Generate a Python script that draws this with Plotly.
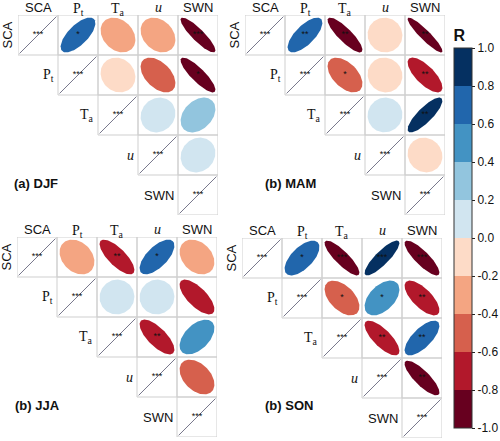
import numpy as np
import plotly.graph_objects as go

# ---------------- data ----------------
variables = ["SCA", "P<sub>t</sub>", "T<sub>a</sub>", "<i>u</i>", "SWN"]
var_fonts = ["Liberation Sans", "Liberation Serif", "Liberation Serif", "Liberation Serif", "Liberation Sans"]
# upper-triangle pairs order: (0,1),(0,2),(0,3),(0,4),(1,2),(1,3),(1,4),(2,3),(2,4),(3,4)
seasons = ["(a) DJF", "(b) MAM", "(b) JJA", "(b) SON"]
r_djf = [0.68, -0.27, -0.27, -0.88, -0.12, -0.47, -0.85, 0.10, 0.34, 0.12]
r_mam = [0.70, -0.85, -0.03, -0.92, -0.50, -0.05, -0.72, 0.03, 0.82, -0.08]
r_jja = [-0.28, -0.75, 0.65, -0.30, 0.02, 0.02, -0.70, -0.72, 0.50, -0.42]
r_son = [0.62, -0.85, 0.85, -0.84, -0.50, 0.48, -0.70, -0.75, 0.70, -0.82]
sig_djf = ["*", "", "", "***", "", "", "*", "", "", ""]
sig_mam = ["**", "**", "", "**", "*", "", "**", "", "**", ""]
sig_jja = ["", "**", "*", "", "", "", "", "**", "", ""]
sig_son = ["*", "***", "***", "***", "*", "*", "**", "**", "**", "**"]
diag_sig = "***"
r_all = [r_djf, r_mam, r_jja, r_son]
sig_all = [sig_djf, sig_mam, sig_jja, sig_son]

bin_edges = [-1.0, -0.8, -0.6, -0.4, -0.2, 0.0, 0.2, 0.4, 0.6, 0.8, 1.0]
bin_colors = ["#67001f", "#b2182b", "#d6604d", "#f4a582", "#fddbc7",
              "#d1e5f0", "#92c5de", "#4393c3", "#2166ac", "#053061"]
tick_vals = [-1.0, -0.8, -0.6, -0.4, -0.2, 0.0, 0.2, 0.4, 0.6, 0.8, 1.0]

# ---------------- layout geometry (pixels) ----------------
W, H = 500, 441
panels_px = [(18, 15), (245, 15), (17, 237), (242, 238)]  # left, top
panel_size = 200
title_px = [(12, 183), (263, 183), (13, 405), (263, 405)]

def color_for(v):
    for k in range(10):
        if v <= bin_edges[k + 1] or k == 9:
            return bin_colors[k]

pairs = [(i, j) for i in range(5) for j in range(i + 1, 5)]
n = 5
s = 0.435
t = np.linspace(0, 2 * np.pi, 120)

fig = go.Figure()
annotations = []

for p in range(4):
    xa = "x" if p == 0 else f"x{p+1}"
    ya = "y" if p == 0 else f"y{p+1}"
    # cell borders
    bx, by = [], []
    for i in range(n):
        for j in range(i, n):
            x0, x1 = j + 1 - 0.5, j + 1 + 0.5
            y0, y1 = i + 1 - 0.5, i + 1 + 0.5
            bx += [x0, x1, x1, x0, x0, None]
            by += [y0, y0, y1, y1, y0, None]
    fig.add_trace(go.Scatter(x=bx, y=by, mode="lines", line=dict(color="#cfcfcf", width=1),
                             xaxis=xa, yaxis=ya, showlegend=False, hoverinfo="skip"))
    # diagonal lines
    dx, dy = [], []
    for i in range(n):
        c = i + 1
        dx += [c - 0.46, c + 0.46, None]
        dy += [c + 0.46, c - 0.46, None]
    fig.add_trace(go.Scatter(x=dx, y=dy, mode="lines", line=dict(color="#55556e", width=0.8),
                             xaxis=xa, yaxis=ya, showlegend=False, hoverinfo="skip"))
    # ellipses
    for k, (i, j) in enumerate(pairs):
        r = r_all[p][k]
        d = np.arccos(np.clip(r, -1, 1))
        cx, cy = j + 1, i + 1
        ex = cx + s * np.cos(t + d / 2)
        ey = cy - s * np.cos(t - d / 2)
        fig.add_trace(go.Scatter(x=ex, y=ey, mode="lines", fill="toself",
                                 fillcolor=color_for(r), line=dict(width=0, color=color_for(r)),
                                 xaxis=xa, yaxis=ya, showlegend=False, hoverinfo="skip"))
    # significance stars (only non-empty)
    sx, sy, st = [], [], []
    for k, (i, j) in enumerate(pairs):
        if sig_all[p][k]:
            sx.append(j + 1); sy.append(i + 1); st.append(sig_all[p][k])
    for i in range(n):
        sx.append(i + 1); sy.append(i + 1); st.append(diag_sig)
    fig.add_trace(go.Scatter(x=sx, y=sy, mode="text", text=st,
                             textfont=dict(size=9, color="#111111", family="Liberation Sans"),
                             textposition="middle center",
                             xaxis=xa, yaxis=ya, showlegend=False, hoverinfo="skip"))
    # column labels
    for j in range(n):
        has_sub = "<sub>" in variables[j]
        annotations.append(dict(x=j + 1, y=0.5, xref=xa, yref=ya, text=variables[j],
                                showarrow=False, yanchor="middle", xanchor="center",
                                yshift=6 if has_sub else 8,
                                font=dict(size=14 if var_fonts[j] == "Liberation Serif" else 13,
                                          family=var_fonts[j], color="#111111")))
    # row labels
    annotations.append(dict(x=0.5, y=1, xref=xa, yref=ya, text=variables[0], textangle=-90,
                            showarrow=False, xanchor="right", yanchor="middle", xshift=-2,
                            font=dict(size=13, family=var_fonts[0], color="#111111")))
    for i in range(1, n):
        annotations.append(dict(x=i + 0.5, y=i + 1, xref=xa, yref=ya, text=variables[i],
                                showarrow=False, xanchor="right", yanchor="middle", xshift=-2,
                                font=dict(size=14 if var_fonts[i] == "Liberation Serif" else 13,
                                          family=var_fonts[i], color="#111111")))
    # panel title
    tx, ty = title_px[p]
    annotations.append(dict(x=tx / W, y=1 - ty / H, xref="paper", yref="paper",
                            text="<b>" + seasons[p] + "</b>", showarrow=False,
                            xanchor="left", yanchor="middle",
                            font=dict(size=13, family="Liberation Sans", color="#111111")))

# colorbar via invisible scatter
cs = []
for k in range(10):
    lo = (bin_edges[k] + 1) / 2
    hi = (bin_edges[k + 1] + 1) / 2
    cs.append([lo, bin_colors[k]])
    cs.append([hi, bin_colors[k]])
cb_top, cb_bottom = 26, 428
fig.add_trace(go.Scatter(x=[1, 2], y=[1, 1], mode="markers", xaxis="x", yaxis="y",
                         marker=dict(color=[-1, 1], colorscale=cs, cmin=-1, cmax=1, size=1, opacity=0,
                                     showscale=True,
                                     colorbar=dict(
                                         title=dict(text="<b>R</b>", side="top",
                                                    font=dict(size=16, family="Liberation Sans", color="#111")),
                                         tickvals=tick_vals, ticktext=["%.1f" % v for v in tick_vals],
                                         ticks="outside", ticklen=3, tickcolor="#222",
                                         tickfont=dict(size=12, family="Liberation Sans", color="#111"),
                                         outlinewidth=1, outlinecolor="#333",
                                         thickness=18, thicknessmode="pixels",
                                         len=cb_bottom - cb_top, lenmode="pixels",
                                         x=454 / W, xanchor="left", xpad=0,
                                         y=1 - (cb_top + cb_bottom) / 2 / H, yanchor="middle", ypad=0)),
                         showlegend=False, hoverinfo="skip"))

layout = dict(width=W, height=H, margin=dict(l=0, r=0, t=0, b=0, autoexpand=False),
              paper_bgcolor="white", plot_bgcolor="white", annotations=annotations,
              showlegend=False)
for p in range(4):
    left, top = panels_px[p]
    xk = "xaxis" if p == 0 else f"xaxis{p+1}"
    yk = "yaxis" if p == 0 else f"yaxis{p+1}"
    ya = "y" if p == 0 else f"y{p+1}"
    xa = "x" if p == 0 else f"x{p+1}"
    layout[xk] = dict(domain=[left / W, (left + panel_size) / W], range=[0.5, 5.5],
                      visible=False, fixedrange=True, anchor=ya)
    layout[yk] = dict(domain=[1 - (top + panel_size) / H, 1 - top / H], range=[5.5, 0.5],
                      visible=False, fixedrange=True, anchor=xa)
fig.update_layout(**layout)
fig.write_html("out.html", config={"displayModeBar": False, "staticPlot": True},
               post_script="document.body.style.margin='0px';document.body.style.padding='0px';"
                           "document.documentElement.style.overflow='hidden';")
